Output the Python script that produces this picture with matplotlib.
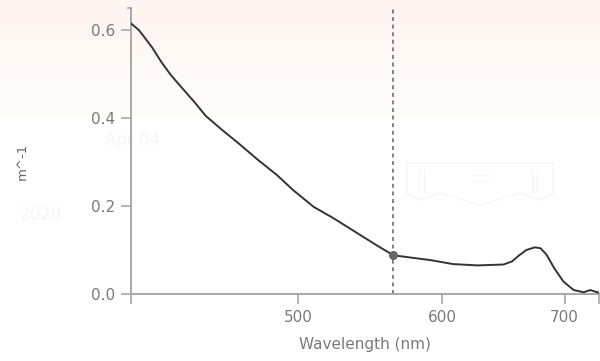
import numpy as np
import matplotlib
matplotlib.use("Agg")
import matplotlib.pyplot as plt
from matplotlib.ticker import FixedLocator, NullFormatter, FuncFormatter

# Spectrum (wavelength in nm, absorbance in m^-1)
wavelength = [405, 409, 412, 416, 421, 426, 432, 439, 445, 454, 464, 475, 487,
              497, 510, 523, 539, 552, 564, 576, 591, 608, 627, 648, 655, 661,
              667, 674, 679, 684, 691, 699, 708, 717, 723, 728, 731]
absorbance = [0.615, 0.600, 0.583, 0.560, 0.526, 0.497, 0.468, 0.435, 0.405,
              0.374, 0.342, 0.306, 0.270, 0.236, 0.198, 0.172, 0.138, 0.111,
              0.088, 0.083, 0.077, 0.068, 0.065, 0.067, 0.074, 0.088, 0.100,
              0.106, 0.104, 0.090, 0.058, 0.028, 0.009, 0.004, 0.009, 0.005,
              0.003]
x_ticks = [500, 600, 700]
y_ticks = [0.0, 0.2, 0.4, 0.6]
marker_wl = 564
marker_val = 0.088
x_range = (405, 731)
y_range = (0, 0.65)

axis_col = '#a8a8a8'
text_col = '#7a7a7a'

fig = plt.figure(figsize=(6, 3.61), dpi=100)

# background layer in pixel coords (gradient + faint watermark)
bg = fig.add_axes([0, 0, 1, 1], zorder=0)
top = np.array([254, 244, 240]) / 255
bot = np.array([255, 253, 251]) / 255
t = np.linspace(0, 1, 117)[:, None]
grad = top * (1 - t) + bot * t
grad = np.repeat(grad[:, None, :], 2, axis=1)
bg.imshow(grad, extent=(0, 600, 117, 0), aspect='auto', interpolation='bilinear')
bg.set_xlim(0, 600); bg.set_ylim(361, 0); bg.axis('off')
wm = '#f5f5f5'
bg.text(105, 140, 'Apr 04', color=wm, fontsize=12, va='center')
bg.text(20, 215, '2020', color=wm, fontsize=12, va='center')
bg.plot([407, 553, 553, 540, 520, 480, 440, 420, 407, 407],
        [163, 163, 194, 200, 193, 205, 193, 200, 194, 163], color=wm, lw=1.0)
for xx in [419, 424, 532, 537]:
    bg.plot([xx, xx], [170, 192], color=wm, lw=1.0)
for yy in [175, 181]:
    bg.plot([472, 488], [yy, yy], color=wm, lw=1.0)

ax = fig.add_axes([131/600, 67/361, 468/600, 286/361], zorder=1)
ax.patch.set_alpha(0)

ax.plot(wavelength, absorbance, color='#333333', lw=1.4, zorder=3,
        solid_joinstyle='round')
ax.axvline(marker_wl, color='#777777', lw=1.3, dashes=(2.2, 2.0), zorder=2)
ax.plot([marker_wl], [marker_val], 'o', color='#666666', ms=5.5, zorder=4)

ax.set_xscale('log')
ax.set_xlim(*x_range)
ax.set_ylim(*y_range)

ax.xaxis.set_major_locator(FixedLocator(x_ticks))
ax.xaxis.set_major_formatter(FuncFormatter(lambda v, p: '%d' % v))
ax.xaxis.set_minor_locator(FixedLocator(list(x_range)))
ax.xaxis.set_minor_formatter(NullFormatter())
ax.yaxis.set_major_locator(FixedLocator(y_ticks))
ax.yaxis.set_major_formatter(FuncFormatter(lambda v, p: '%.1f' % v))
ax.yaxis.set_minor_locator(FixedLocator([y_range[1]]))
ax.yaxis.set_minor_formatter(NullFormatter())

for s in ['top', 'right']:
    ax.spines[s].set_visible(False)
for s in ['left', 'bottom']:
    ax.spines[s].set_color(axis_col)
    ax.spines[s].set_linewidth(1.4)

ax.tick_params(which='major', length=7.5, width=1.2, color=axis_col,
               labelcolor=text_col, labelsize=11, pad=4)
ax.tick_params(axis='x', which='minor', length=7.5, width=1.2, color=axis_col)
ax.tick_params(axis='y', which='minor', length=3, width=1.2, color=axis_col)

ax.set_xlabel('Wavelength (nm)', color=text_col, fontsize=11, labelpad=9)
fig.text(22/600, 1 - 161/361, 'm^-1', rotation=90, color='#666666',
         fontsize=9.5, ha='center', va='center')

plt.savefig('out.png', dpi=100)
